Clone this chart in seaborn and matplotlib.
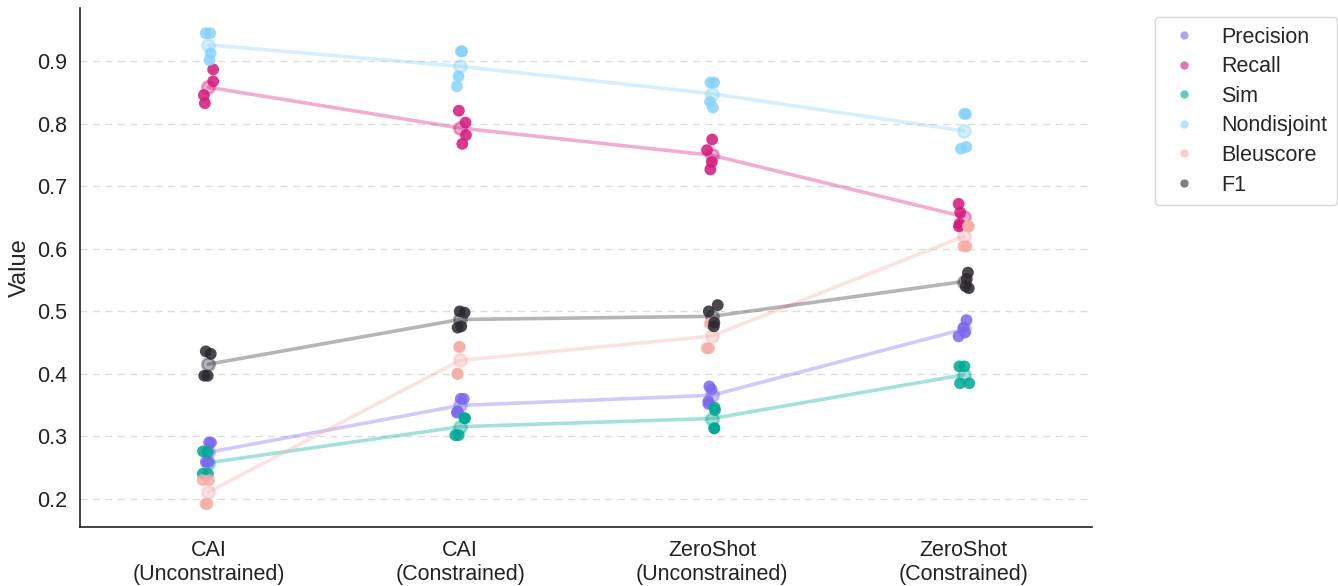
import numpy as np
import pandas as pd
import matplotlib
matplotlib.use("Agg")
import matplotlib.pyplot as plt
from matplotlib.lines import Line2D
import seaborn as sns

# Model settings on the x axis
models = ["CAI\n(Unconstrained)", "CAI\n(Constrained)",
          "ZeroShot\n(Unconstrained)", "ZeroShot\n(Constrained)"]

metrics = ["Precision", "Recall", "Sim", "Nondisjoint", "Bleuscore", "F1"]

# Four runs per model setting (one row per model)
precision = [[0.290, 0.290, 0.259, 0.259],
             [0.360, 0.360, 0.340, 0.338],
             [0.380, 0.375, 0.356, 0.352],
             [0.486, 0.474, 0.466, 0.460]]
recall = [[0.887, 0.868, 0.846, 0.833],
          [0.821, 0.802, 0.782, 0.768],
          [0.775, 0.758, 0.739, 0.727],
          [0.672, 0.658, 0.640, 0.636]]
sim = [[0.276, 0.275, 0.240, 0.240],
       [0.329, 0.329, 0.302, 0.302],
       [0.346, 0.342, 0.313, 0.313],
       [0.412, 0.412, 0.385, 0.385]]
nondisjoint = [[0.945, 0.945, 0.913, 0.902],
               [0.916, 0.916, 0.876, 0.860],
               [0.866, 0.866, 0.835, 0.826],
               [0.816, 0.816, 0.763, 0.760]]
bleuscore = [[0.230, 0.230, 0.192, 0.192],
             [0.443, 0.443, 0.400, 0.400],
             [0.480, 0.480, 0.441, 0.441],
             [0.636, 0.636, 0.604, 0.604]]
f1 = [[0.436, 0.432, 0.397, 0.397],
      [0.500, 0.498, 0.476, 0.474],
      [0.510, 0.500, 0.482, 0.476],
      [0.562, 0.552, 0.540, 0.537]]

palette = {"Precision": "#7B68EE", "Recall": "#D4177A", "Sim": "#00A896",
           "Nondisjoint": "#87D3FA", "Bleuscore": "#F4AEA8", "F1": "#2B2830"}

series = dict(zip(metrics, [precision, recall, sim, nondisjoint, bleuscore, f1]))
rows = []
for metric, table in series.items():
    for model, runs in zip(models, table):
        for v in runs:
            rows.append({"Model": model, "Metric": metric, "Value": v})
df = pd.DataFrame(rows)

sns.set_theme(style="white")
plt.rcParams["font.family"] = ["Liberation Sans", "DejaVu Sans"]

fig = plt.figure(figsize=(13.38, 5.86), dpi=100)
ax = fig.add_axes([0.0598, 0.1007, 0.7565, 0.8853])

# Mean trend per metric
sns.pointplot(data=df, x="Model", y="Value", hue="Metric", order=models,
              hue_order=metrics, palette=palette, errorbar=None, dodge=False,
              markers="o", markersize=9, linewidth=2.6, alpha=0.35,
              legend=False, ax=ax)

# Individual runs
np.random.seed(3)
sns.stripplot(data=df, x="Model", y="Value", hue="Metric", order=models,
              hue_order=metrics, palette=palette, jitter=0.024, size=8.5,
              alpha=0.85, linewidth=0, legend=False, ax=ax)

ax.set_xlim(-0.51, 3.51)
ax.set_ylim(0.155, 0.985)
ax.set_yticks([0.2, 0.3, 0.4, 0.5, 0.6, 0.7, 0.8, 0.9])
ax.yaxis.grid(True, linestyle=(0, (5, 4)), color="#dddddd", linewidth=1.0)
ax.set_axisbelow(True)
ax.set_xlabel("")
ax.set_ylabel("Value", fontsize=17)
ax.tick_params(axis="both", labelsize=15.5, colors="#222222")
for side in ("top", "right"):
    ax.spines[side].set_visible(False)
for side in ("left", "bottom"):
    ax.spines[side].set_color("#222222")
    ax.spines[side].set_linewidth(1.2)

handles = [Line2D([], [], marker="o", linestyle="", markersize=6,
                  markerfacecolor=palette[m], markeredgewidth=0, alpha=0.6,
                  label=m) for m in metrics]
ax.legend(handles=handles, loc="upper left", bbox_to_anchor=(1.051, 1.004),
          fontsize=15.5, frameon=True, handlelength=1.8, handletextpad=0.85,
          labelspacing=0.4, borderpad=0.45, edgecolor="#cccccc")

fig.savefig("out.png", dpi=100)
